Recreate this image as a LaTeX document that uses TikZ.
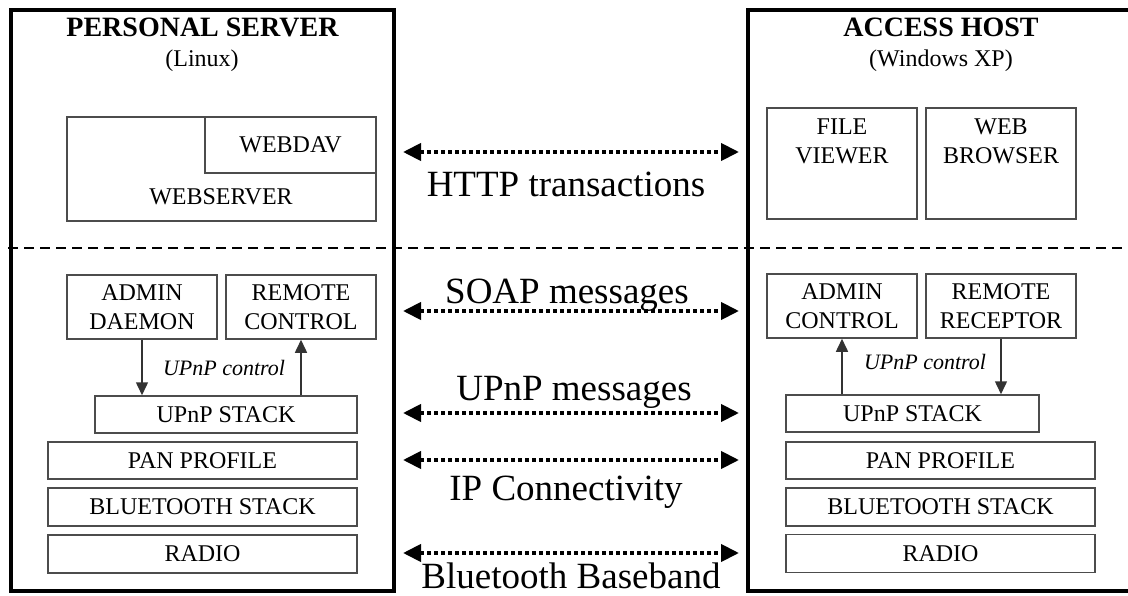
\documentclass[tikz,border=0pt]{standalone}
\usepackage{fontspec}
\setmainfont{Liberation Serif}
\usetikzlibrary{arrows.meta}
\begin{document}
\begin{tikzpicture}[x=1pt,y=-1pt,
  panel/.style={draw, line width=3.5pt, inner sep=0pt},
  box/.style={draw=black!70, line width=1.5pt, inner sep=0pt, font=\fontsize{24}{29}\selectfont, align=center},
  lbl/.style={font=\fontsize{24}{29}\selectfont, align=center, inner sep=0pt},
  title/.style={font=\fontsize{28}{30}\selectfont\bfseries, anchor=base, inner sep=0pt},
  os/.style={font=\fontsize{24}{26}\selectfont, anchor=base, inner sep=0pt},
  ctrl/.style={font=\fontsize{22}{24}\selectfont\itshape, anchor=base, inner sep=0pt},
  msg/.style={font=\fontsize{37}{40}\selectfont, anchor=base, inner sep=0pt},
  link/.style={line width=4pt, dash pattern=on 4pt off 3pt, >={Triangle[length=18pt,width=17pt]}, <->},
  updown/.style={line width=1.5pt, draw=black!80, >={Triangle[length=13pt,width=12pt]}, ->},
  divider/.style={line width=2pt, dash pattern=on 10pt off 6pt}
]
\clip (0,0) rectangle (1128,596);

% panels
\node[panel, minimum width=383, minimum height=581] (ps) at (202.5,300.5) {};
\node[panel, minimum width=392, minimum height=581] (ah) at (944,300.5) {};

% divider
\coordinate (dl) at (8,248);
\coordinate (dr) at (1128,248);
\draw[divider] (dl) -- (dr);

% titles
\node[title] (pst) at (202.5,37) {PERSONAL SERVER};
\node[os] (pso) at (202,67) {(Linux)};
\node[title] (aht) at (941,37) {ACCESS HOST};
\node[os] (aho) at (941,67) {(Windows XP)};

% left side
\node[box, minimum width=309, minimum height=104] (websrv) at (221.5,169) {};
\node[box, minimum width=171, minimum height=56] (webdav) at (290.5,145) {WEBDAV};
\node[lbl] (websrvt) at (221,197) {WEBSERVER};
\node[box, minimum width=150, minimum height=64] (adL) at (142,307) {ADMIN\\DAEMON};
\node[box, minimum width=150, minimum height=64] (rcL) at (301,307) {REMOTE\\CONTROL};
\node[box, minimum width=262, minimum height=37] (upnpL) at (226,414.5) {UPnP STACK};
\node[box, minimum width=309, minimum height=37] (panL) at (202.5,460.5) {PAN PROFILE};
\node[box, minimum width=309, minimum height=38] (btL) at (202.5,507) {BLUETOOTH STACK};
\node[box, minimum width=309, minimum height=38] (radL) at (202.5,554) {RADIO};
\node[ctrl] (ctlL) at (224,375) {UPnP control};
\draw[updown] (adL.south) -- (upnpL.north -| adL.south);
\draw[updown] (upnpL.north -| rcL.south) -- (rcL.south);

% right side
\node[box, minimum width=150, minimum height=111] (fv) at (842,163.5) {};
\node[lbl] (fvt) at (842,141.5) {FILE\\VIEWER};
\node[box, minimum width=150, minimum height=111] (wb) at (1001,163.5) {};
\node[lbl] (wbt) at (1001,141.5) {WEB\\BROWSER};
\node[box, minimum width=150, minimum height=64] (acR) at (842,306) {ADMIN\\CONTROL};
\node[box, minimum width=150, minimum height=64] (rrR) at (1001,306) {REMOTE\\RECEPTOR};
\node[box, minimum width=253, minimum height=37] (upnpR) at (912.5,413.5) {UPnP STACK};
\node[box, minimum width=309, minimum height=37] (panR) at (940.5,460.5) {PAN PROFILE};
\node[box, minimum width=309, minimum height=38] (btR) at (940.5,507) {BLUETOOTH STACK};
\node[box, minimum width=309, minimum height=38] (radR) at (940.5,553.5) {RADIO};
\node[ctrl] (ctlR) at (925,370) {UPnP control};
\draw[updown] (upnpR.north -| acR.south) -- (acR.south);
\draw[updown] (rrR.south) -- (upnpR.north -| rrR.south);

% middle links
\coordinate (a1) at (403,152); \coordinate (b1) at (739,152);
\coordinate (a2) at (403,311); \coordinate (b2) at (739,311);
\coordinate (a3) at (403,413); \coordinate (b3) at (739,413);
\coordinate (a4) at (403,460); \coordinate (b4) at (739,460);
\coordinate (a5) at (403,553); \coordinate (b5) at (739,553);
\draw[link] (a1) -- (b1);
\draw[link] (a2) -- (b2);
\draw[link] (a3) -- (b3);
\draw[link] (a4) -- (b4);
\draw[link] (a5) -- (b5);
\node[msg] (m1) at (566,197) {HTTP transactions};
\node[msg] (m2) at (567,304) {SOAP messages};
\node[msg] (m3) at (574,400) {UPnP messages};
\node[msg] (m4) at (566,500) {IP Connectivity};
\node[msg] (m5) at (571,588) {Bluetooth Baseband};
\end{tikzpicture}
\end{document}
